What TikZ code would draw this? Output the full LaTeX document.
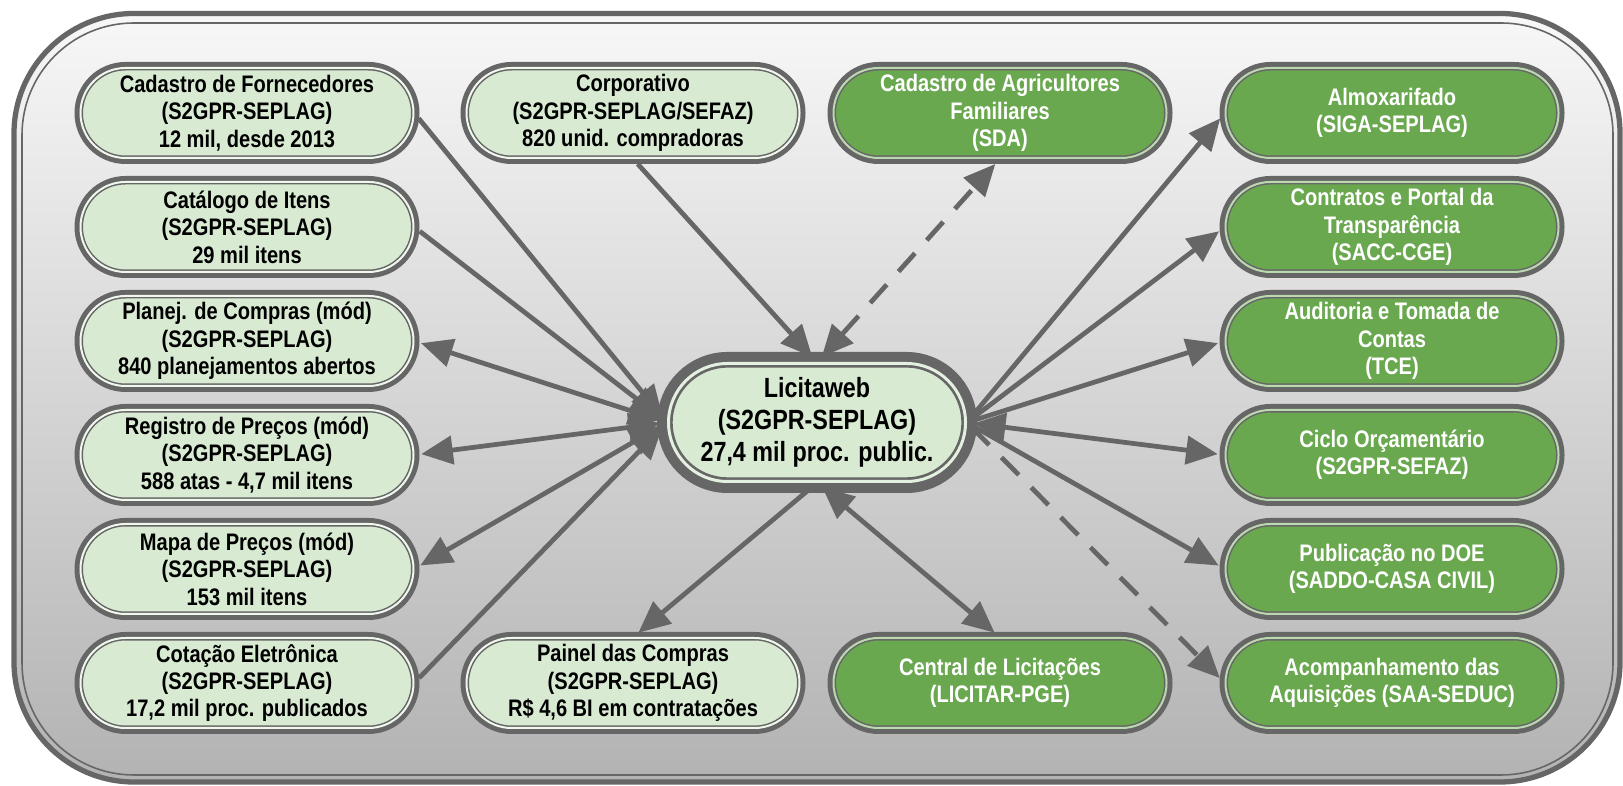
\documentclass[tikz,border=0pt]{standalone}
\usepackage{fontspec}
\newfontfamily\sysfont{Liberation Sans}[FakeStretch=0.84]
\usetikzlibrary{arrows.meta}
\usetikzlibrary{shapes.misc}
\definecolor{linegray}{HTML}{666666}
\definecolor{lightfill}{HTML}{D9EAD3}
\definecolor{darkfill}{HTML}{6AA84F}

\begin{document}
\begin{tikzpicture}[
    sys/.style={rounded rectangle, draw=linegray, line width=0.43pt, double distance=0.57pt,
      minimum width=3.33cm, minimum height=0.90cm, inner sep=0pt, align=center,
      font=\sysfont\bfseries\fontsize{6.8}{7.8}\selectfont,
      preaction={draw=linegray, line width=3.41pt}},
    light/.style={sys, fill=lightfill, double=lightfill!40!white, text=black},
    dark/.style={sys, fill=darkfill, double=darkfill!45!white, text=white},
    core/.style={rounded rectangle, draw=linegray, line width=0.77pt, double=lightfill!70!white,
      double distance=0.85pt, fill=lightfill, minimum width=2.97cm, minimum height=1.18cm,
      inner sep=0pt, align=center, font=\sysfont\bfseries\fontsize{7.9}{9.1}\selectfont,
      preaction={draw=linegray, line width=6.55pt}},
    link/.style={draw=linegray, line width=1.35pt, shorten <=2pt, shorten >=2pt},
    dashlink/.style={link, dash pattern=on 7pt off 5pt},
    >={Triangle[length=9pt, width=8pt]}
  ]
    \useasboundingbox (0,0) rectangle (16.23,7.86);
    % frame
    \draw[line width=1.5pt, draw=linegray, top color=white!97!black, bottom color=white!70!black, rounded corners=12mm] (0.14,0.04) rectangle (16.20,7.725);
    \draw[line width=0.45pt, linegray, rounded corners=11.2mm] (0.22,0.11) rectangle (16.13,7.63);

    \node[core] (lw) at (8.17,3.635) {Licitaweb\\(S2GPR-SEPLAG)\\27,4 mil proc. public.};

    \node[light] (cadf) at (2.47,6.73) {Cadastro de Fornecedores\\(S2GPR-SEPLAG)\\12 mil, desde 2013};
    \node[light] (cat) at (2.47,5.59) {Catálogo de Itens\\(S2GPR-SEPLAG)\\29 mil itens};
    \node[light] (plan) at (2.47,4.45) {Planej. de Compras (mód)\\(S2GPR-SEPLAG)\\840 planejamentos abertos};
    \node[light] (reg) at (2.47,3.31) {Registro de Preços (mód)\\(S2GPR-SEPLAG)\\588 atas - 4,7 mil itens};
    \node[light] (mapa) at (2.47,2.17) {Mapa de Preços (mód)\\(S2GPR-SEPLAG)\\153 mil itens};
    \node[light] (cot) at (2.47,1.03) {Cotação Eletrônica\\(S2GPR-SEPLAG)\\17,2 mil proc. publicados};

    \node[light] (corp) at (6.33,6.73) {Corporativo\\(S2GPR-SEPLAG/SEFAZ)\\820 unid. compradoras};
    \node[light] (pain) at (6.33,1.03) {Painel das Compras\\(S2GPR-SEPLAG)\\R\$ 4,6 BI em contratações};
    \node[dark] (agri) at (10.00,6.73) {Cadastro de Agricultores\\Familiares\\(SDA)};
    \node[dark] (cent) at (10.00,1.03) {Central de Licitações\\(LICITAR-PGE)};

    \node[dark] (almx) at (13.92,6.73) {Almoxarifado\\(SIGA-SEPLAG)};
    \node[dark] (cont) at (13.92,5.59) {Contratos e Portal da\\Transparência\\(SACC-CGE)};
    \node[dark] (aud) at (13.92,4.45) {Auditoria e Tomada de\\Contas\\(TCE)};
    \node[dark] (cic) at (13.92,3.31) {Ciclo Orçamentário\\(S2GPR-SEFAZ)};
    \node[dark] (pub) at (13.92,2.17) {Publicação no DOE\\(SADDO-CASA CIVIL)};
    \node[dark] (acomp) at (13.92,1.03) {Acompanhamento das\\Aquisições (SAA-SEDUC)};

    % left side
    \draw[link, ->] (cadf.east) -- (lw.west);
    \draw[link, ->] (cat.east) -- (lw.west);
    \draw[link, <->] (plan.east) -- (lw.west);
    \draw[link, <->] (reg.east) -- (lw.west);
    \draw[link, <->] (mapa.east) -- (lw.west);
    \draw[link, ->] (cot.east) -- (lw.west);
    % top and bottom
    \draw[link, ->] (corp.south) -- (lw.north);
    \draw[dashlink, <->] (lw.north) -- (agri.south);
    \draw[link, ->] (lw.south) -- (pain.north);
    \draw[link, <->] (lw.south) -- (cent.north);
    % right side
    \draw[link, ->] (lw.east) -- (almx.west);
    \draw[link, ->] (lw.east) -- (cont.west);
    \draw[link, ->] (lw.east) -- (aud.west);
    \draw[link, <->] (lw.east) -- (cic.west);
    \draw[link, ->] (lw.east) -- (pub.west);
    \draw[dashlink, ->] (lw.east) -- (acomp.west);
  \end{tikzpicture}
\end{document}
